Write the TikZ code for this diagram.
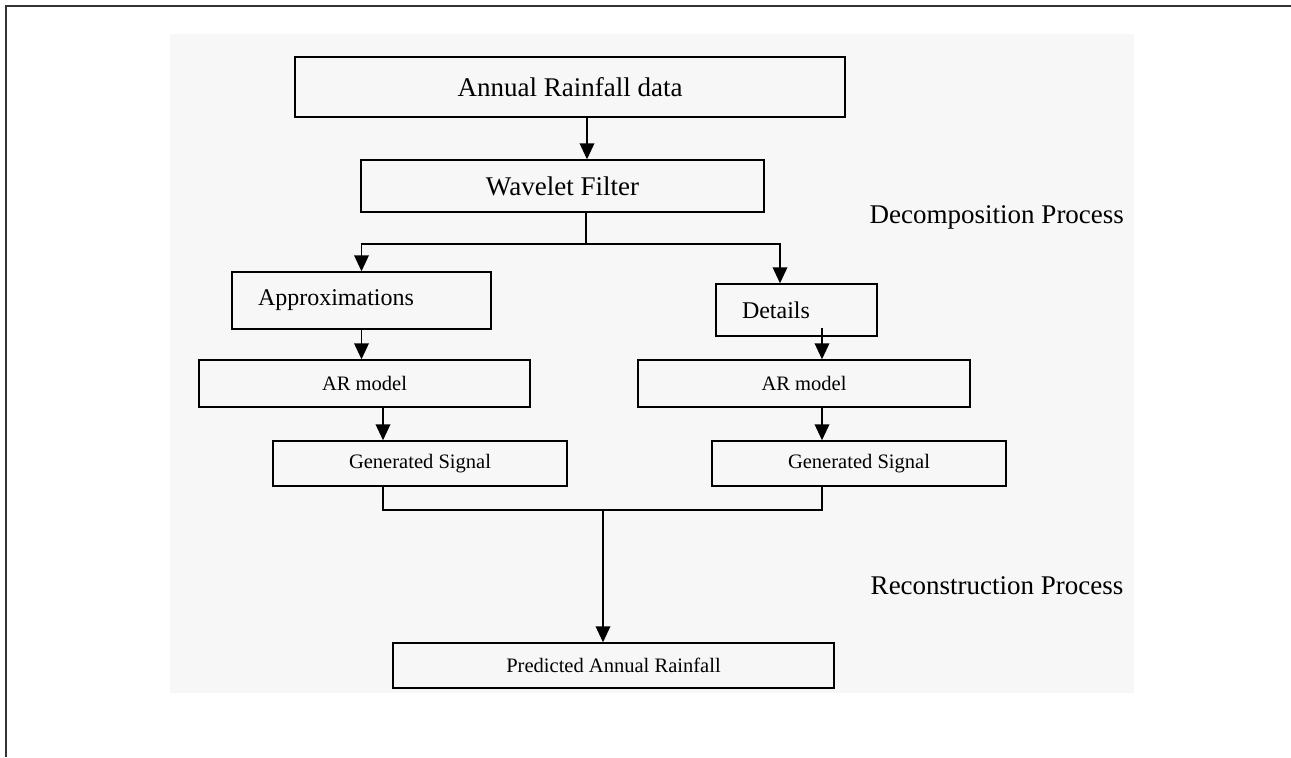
\documentclass[tikz,border=0pt]{standalone}
\usepackage{fontspec}
\setmainfont{Liberation Serif}
\usetikzlibrary{positioning, arrows.meta}

\begin{document}
\begin{tikzpicture}[x=0.75pt, y=-0.75pt, line width=1.1pt,
    >={Triangle[length=12pt, width=11pt]},
    blk/.style={draw, inner sep=0pt},
    big/.style={font=\fontsize{20.25}{24}\selectfont},
    mid/.style={font=\fontsize{18}{21}\selectfont},
    small/.style={font=\fontsize{15.4}{18}\selectfont}]

    % page frame and shaded panel
    \useasboundingbox (0,0) rectangle (1291,757);
    \fill[black!3] (170,34) rectangle (1134,693);
    \draw[line width=1.5pt, black!80] (6,757) -- (6,6) -- (1291,6);

    % decomposition
    \node[blk, big, minimum width=412.5pt, minimum height=45pt] (annual) at (570,87) {Annual Rainfall data};
    \node[blk, big, minimum width=302.25pt, minimum height=39pt] (wavelet) at (562.5,186) {Wavelet Filter};
    \node[blk, mid, minimum width=194.25pt, minimum height=42.75pt, text width=155.25pt, inner xsep=19.5pt, align=left] (approx) at (361.5,300.5) {Approximations};
    \node[blk, mid, minimum width=120.75pt, minimum height=39pt, text width=81.75pt, inner xsep=19.5pt, align=left] (details) at (796.5,310) {Details};

    \node[blk, small, minimum width=248.25pt, minimum height=35.25pt] (arL) at (364.5,383.5) {AR model};
    \node[blk, small, minimum width=249pt, minimum height=35.25pt] (arR) at (804,383.5) {AR model};
    \node[blk, small, minimum width=220.5pt, minimum height=33.75pt] (genL) at (420,463.5) {Generated Signal};
    \node[blk, small, minimum width=220.5pt, minimum height=33.75pt] (genR) at (859,463.5) {Generated Signal};

    % reconstruction
    \node[blk, small, minimum width=330.75pt, minimum height=33.75pt] (pred) at (613.5,665.5) {Predicted Annual Rainfall};

    \node[big, anchor=base west, inner sep=0pt] (decomp) at (869,223) {Decomposition Process};
    \node[big, anchor=base west, inner sep=0pt] (recon) at (870,594) {Reconstruction Process};

    \coordinate (axis) at (587,0);
    \coordinate (fork) at (586,244);
    \coordinate (dcol) at (780,0);
    \coordinate (lcol) at (383,0);
    \coordinate (rcol) at (822,0);
    \coordinate (join) at (603,510);

    \draw[->] (annual.south -| axis) -- (wavelet.north -| axis);
    \draw (wavelet.south -| fork) -- (fork);
    \draw[->] (fork) -| (approx.north);
    \draw[->] (fork) -| (details.north -| dcol);
    \draw[->] (approx.south) -- (approx.south |- arL.north);
    \draw[->] (details.south -| rcol) ++(0,-9) -- (arR.north -| rcol);
    \draw[->] (arL.south -| lcol) -- (genL.north -| lcol);
    \draw[->] (arR.south -| rcol) -- (genR.north -| rcol);
    \draw (genL.south -| lcol) |- (join) -| (genR.south -| rcol);
    \draw[->] (join) -- (join |- pred.north);

\end{tikzpicture}
\end{document}
